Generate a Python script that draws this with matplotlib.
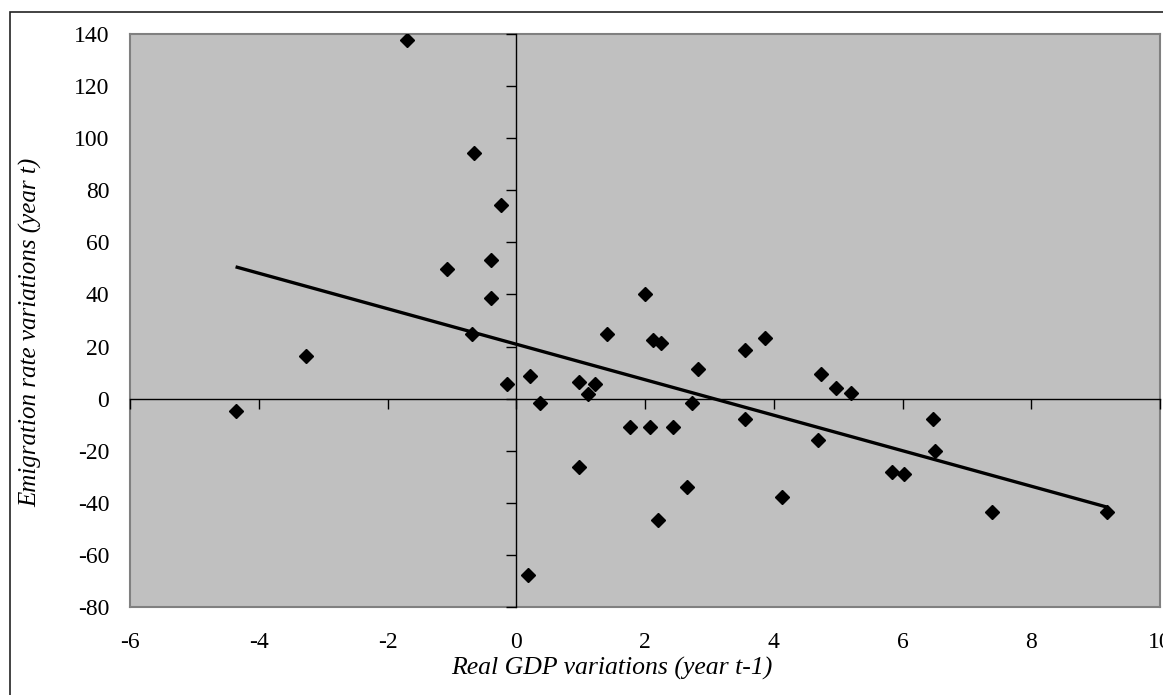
import numpy as np
import matplotlib
matplotlib.use("Agg")
import matplotlib.pyplot as plt
from matplotlib.patches import Rectangle

# Data
gdp_var = [-1.69, -0.66, -0.23, -1.07, -0.39, -0.39, -0.69, 2.00, 1.41, 2.13,
           2.25, 3.87, 3.56, -4.36, -3.27, -0.14, 0.21, 0.37, 0.98, 1.11,
           1.22, 0.98, 0.18, 1.76, 2.07, 2.44, 2.82, 2.73, 3.56, 2.66,
           2.20, 4.13, 4.74, 4.97, 5.20, 6.48, 4.68, 6.51, 5.83, 6.02,
           7.39, 9.18]
emig_var = [137.6, 94.3, 74.4, 49.6, 53.3, 38.5, 24.7, 40.0, 24.7, 22.5,
            21.2, 23.1, 18.7, -4.8, 16.5, 5.6, 8.7, -1.8, 6.5, 1.8,
            5.6, -26.1, -67.9, -10.8, -10.8, -10.8, 11.5, -1.8, -7.7, -33.9,
            -46.6, -37.7, 9.3, 4.2, 2.0, -7.7, -15.9, -20.1, -28.2, -29.1,
            -43.5, -43.5]
x_ticks = [-6, -4, -2, 0, 2, 4, 6, 8, 10]
y_ticks = [-80, -60, -40, -20, 0, 20, 40, 60, 80, 100, 120, 140]
x_label = "Real GDP variations (year t-1)"
y_label = "Emigration rate variations (year t)"

plt.rcParams['font.family'] = ['Liberation Serif', 'DejaVu Serif']

W, H = 1163, 695
fig = plt.figure(figsize=(W / 100, H / 100), dpi=100)

# chart area border (partially cut off at right/bottom)
fig.patches.append(Rectangle((10 / W, -0.05), 1.2, (H - 12) / H + 0.05,
                             transform=fig.transFigure, fill=False,
                             edgecolor='#222222', linewidth=1.2))

pos = [130 / W, (H - 607) / H, (1160 - 130) / W, (607 - 34) / H]
ax = fig.add_axes(pos)
ax.set_facecolor('#c0c0c0')
ax.set_xlim(-6, 10)
ax.set_ylim(-80, 140)
ax.set_xticks(x_ticks)
ax.set_yticks(y_ticks)
ax.set_xticklabels([str(t) for t in x_ticks])
ax.set_yticklabels([str(t) for t in y_ticks])
ax.tick_params(length=0, labelsize=17, colors='black')
ax.tick_params(axis='x', pad=18)
ax.tick_params(axis='y', pad=15)
for sp in ax.spines.values():
    sp.set_color('#808080')
    sp.set_linewidth(1.5)

# zero axes with tick marks
ax2 = fig.add_axes(pos, sharex=ax, sharey=ax)
ax2.patch.set_visible(False)
ax2.spines['top'].set_visible(False)
ax2.spines['right'].set_visible(False)
ax2.spines['left'].set_position(('data', 0))
ax2.spines['bottom'].set_position(('data', 0))
ax2.spines['left'].set_color('black')
ax2.spines['bottom'].set_color('black')
ax2.spines['left'].set_linewidth(1.0)
ax2.spines['bottom'].set_linewidth(1.0)
ax2.tick_params(direction='out', length=7, width=1.0, labelleft=False,
                labelbottom=False, color='black')

# scatter
ax2.plot(gdp_var, emig_var, linestyle='none', marker='D', markersize=7.2,
         markerfacecolor='black', markeredgecolor='black', zorder=5)

# linear trend line
xs = np.array(gdp_var)
ys = np.array(emig_var)
slope, intercept = np.polyfit(xs, ys, 1)
xline = np.array([xs.min(), xs.max()])
ax2.plot(xline, slope * xline + intercept, color='black', linewidth=2.4,
         solid_capstyle='butt', zorder=4)

fig.text(612 / W, 1 - 668 / H, x_label, ha='center', va='center',
         fontsize=18.5, style='italic')
fig.text(31 / W, 1 - 332 / H, y_label, ha='center', va='center',
         fontsize=18, style='italic', rotation=90)

fig.savefig('out.png', dpi=100)
